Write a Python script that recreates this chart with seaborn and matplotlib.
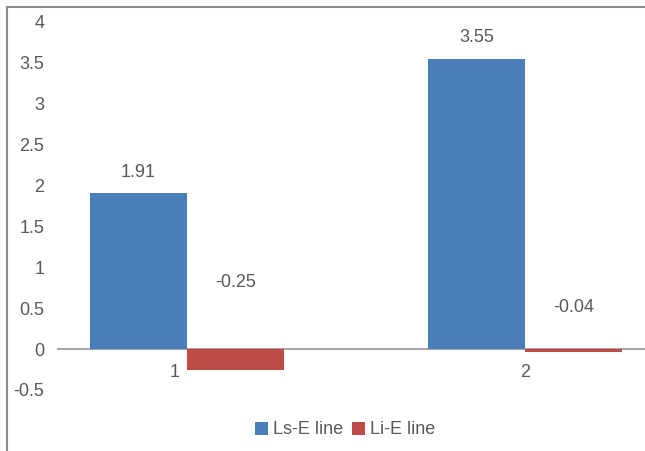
import pandas as pd
import seaborn as sns
import matplotlib.pyplot as plt
from matplotlib.patches import Rectangle

# 데이터
categories = ['1', '2']
series_names = ['Ls-E line', 'Li-E line']
ls_values = [1.91, 3.55]
li_values = [-0.25, -0.04]
y_ticks = [-0.5, 0, 0.5, 1, 1.5, 2, 2.5, 3, 3.5, 4]
y_tick_labels = ['-0.5', '0', '0.5', '1', '1.5', '2', '2.5', '3', '3.5', '4']

df = pd.DataFrame({
    'cat': categories * 2,
    'series': [series_names[0]] * 2 + [series_names[1]] * 2,
    'value': ls_values + li_values,
})

sns.set_theme(style='white')
plt.rcParams['font.family'] = ['Liberation Sans', 'DejaVu Sans']
text_color = '#595959'
colors = ['#4A7EBB', '#BE4B48']
fs = 13

fig = plt.figure(figsize=(6.45, 4.51), dpi=100)
ax = fig.add_axes([57 / 645, 1 - 390 / 451, 1 - 57 / 645, (390 - 22) / 451])

sns.barplot(data=df, x='cat', y='value', hue='series', palette=colors,
            width=0.574, saturation=1, errorbar=None, linewidth=0, ax=ax)

ax.set_ylim(-0.5, 4)
ax.set_xlim(-0.385, 1.355)
ax.set_yticks(y_ticks)
ax.set_yticklabels(y_tick_labels)
ax.set_xlabel('')
ax.set_ylabel('')
for s in ax.spines.values():
    s.set_visible(False)
ax.axhline(0, color='#A6A6A6', lw=1.5, zorder=0)
ax.tick_params(axis='y', length=0, pad=9, labelsize=fs, labelcolor=text_color)

# x축 라벨 (0선 아래)
ax.set_xticks([])
x_label_shift = [-9, 0]
for i, (c, dx) in enumerate(zip(categories, x_label_shift)):
    ax.annotate(c, (i, 0), xytext=(dx, -17), textcoords='offset points',
                ha='center', va='center', fontsize=fs, color=text_color, zorder=5)

# 데이터 라벨
for container, vals in zip(ax.containers, [ls_values, li_values]):
    for bar, v in zip(container, vals):
        cx = bar.get_x() + bar.get_width() / 2
        if v >= 0:
            ax.annotate(f'{v:.2f}', (cx, v), xytext=(0, 15), textcoords='offset points',
                        ha='center', va='center', fontsize=fs, color=text_color)
        else:
            off = 48 if v < -0.1 else 30
            ax.annotate(f'{v:.2f}', (cx, 0), xytext=(0, off), textcoords='offset points',
                        ha='center', va='center', fontsize=fs, color=text_color)

leg = ax.legend(loc='center', bbox_to_anchor=(0.49, (451 - 430 - 61) / 368),
                ncol=2, frameon=False, fontsize=fs, handlelength=0.7, handleheight=0.7,
                handletextpad=0.3, columnspacing=0.5, borderaxespad=0)
for t in leg.get_texts():
    t.set_color(text_color)

# 외곽 테두리
fig.patches.append(Rectangle((7 / 645, -0.05), 1.2, 1 - 7 / 451 + 0.05,
                             transform=fig.transFigure, fill=False,
                             edgecolor='#8C8C8C', lw=1.5))

fig.savefig('out.png', dpi=100)
